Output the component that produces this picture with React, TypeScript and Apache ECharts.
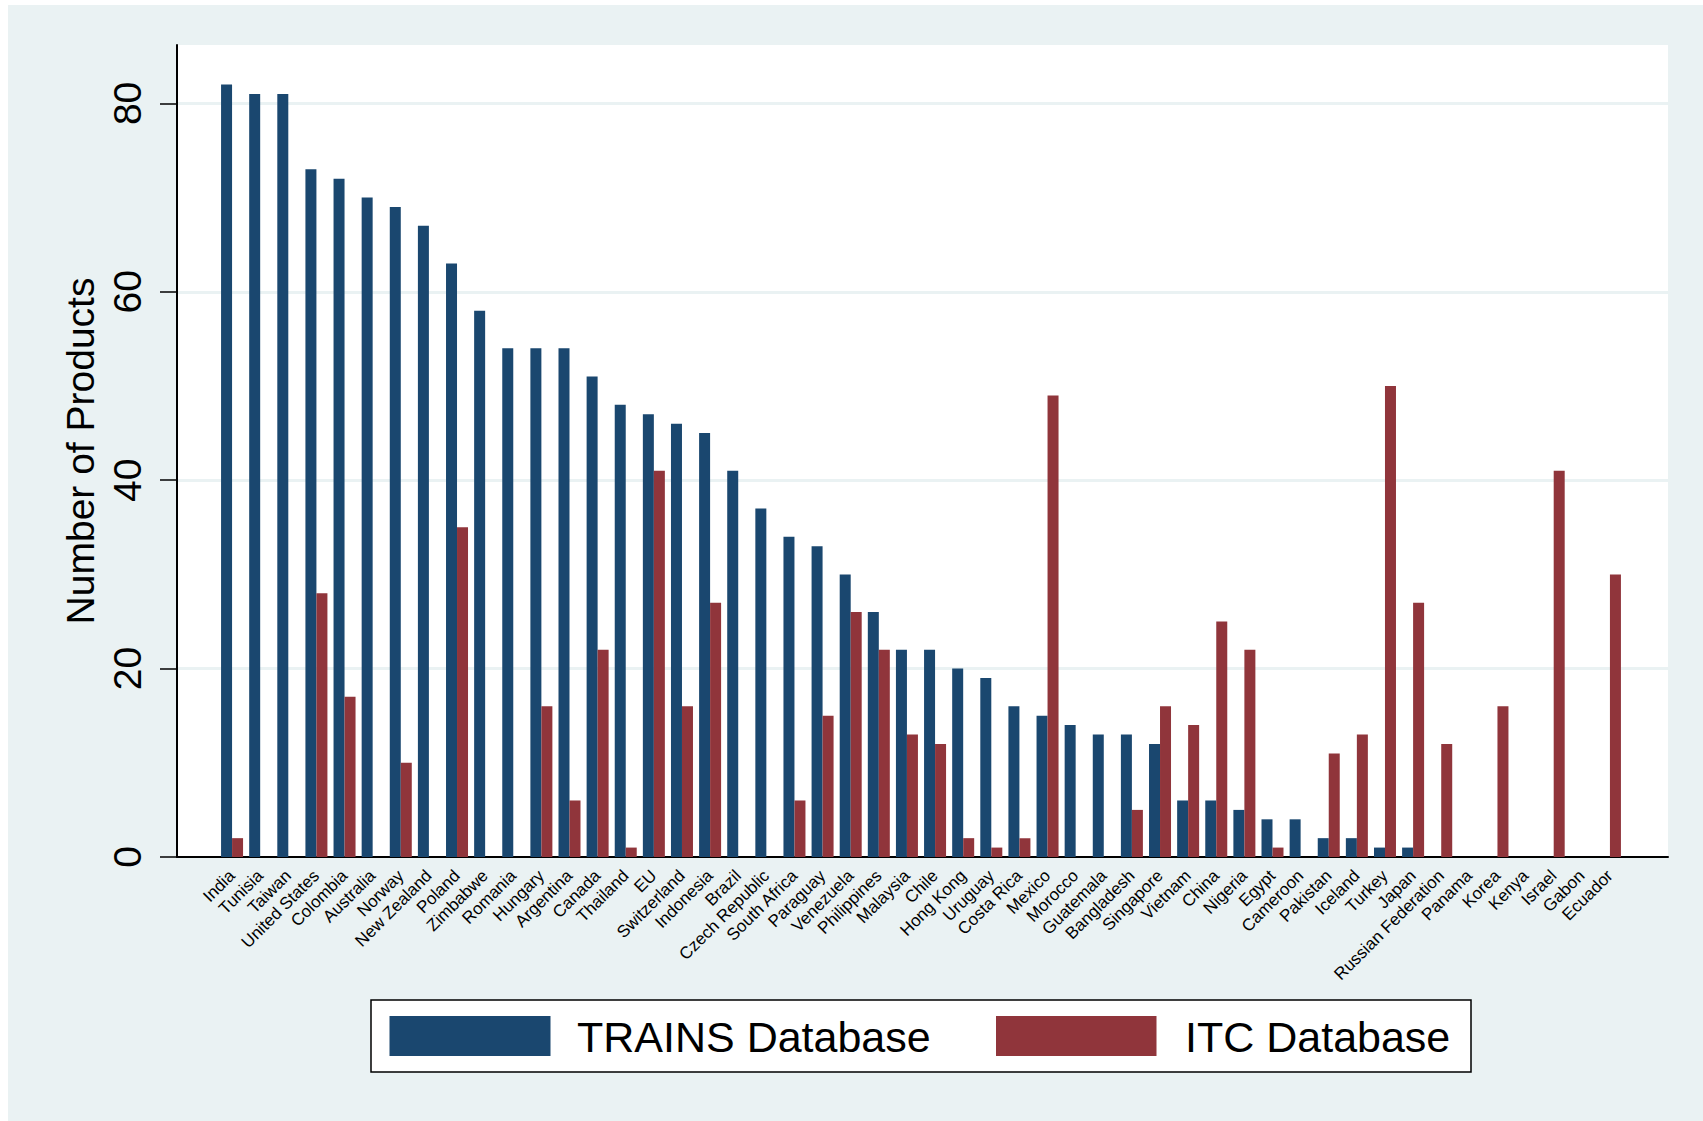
import React, { useEffect, useRef } from "react";
import * as echarts from "echarts";

const countries = [
  "India", "Tunisia", "Taiwan", "United States", "Colombia", "Australia", "Norway", "New Zealand",
  "Poland", "Zimbabwe", "Romania", "Hungary", "Argentina", "Canada", "Thailand", "EU",
  "Switzerland", "Indonesia", "Brazil", "Czech Republic", "South Africa", "Paraguay", "Venezuela",
  "Philippines", "Malaysia", "Chile", "Hong Kong", "Uruguay", "Costa Rica", "Mexico", "Morocco",
  "Guatemala", "Bangladesh", "Singapore", "Vietnam", "China", "Nigeria", "Egypt", "Cameroon",
  "Pakistan", "Iceland", "Turkey", "Japan", "Russian Federation", "Panama", "Korea", "Kenya",
  "Israel", "Gabon", "Ecuador",
];

const trains = [
  82, 81, 81, 73, 72, 70, 69, 67, 63, 58, 54, 54, 54, 51, 48, 47,
  46, 45, 41, 37, 34, 33, 30, 26, 22, 22, 20, 19, 16, 15, 14,
  13, 13, 12, 6, 6, 5, 4, 4, 2, 2, 1, 1, 0, 0, 0, 0, 0, 0, 0,
];

const itc = [
  2, 0, 0, 28, 17, 0, 10, 0, 35, 0, 0, 16, 6, 22, 1, 41,
  16, 27, 0, 0, 6, 15, 26, 22, 13, 12, 2, 1, 2, 49, 0,
  0, 5, 16, 14, 25, 22, 1, 0, 11, 13, 50, 27, 12, 0, 16, 0, 41, 0, 30,
];

const yTicks = [0, 20, 40, 60, 80];
const seriesNames = ["TRAINS Database", "ITC Database"];
const yTitle = "Number of Products";

const BLUE = "#1a476f";
const RED = "#90353b";
const BG = "#eaf2f3";
const FONT = "'Liberation Sans', Arial, Helvetica, sans-serif";

export default function App() {
  const ref = useRef<HTMLDivElement>(null);
  useEffect(() => {
    if (!ref.current) return;
    const chart = echarts.init(ref.current, null, { renderer: "svg" });
    const yMax = 86.2;
    chart.setOption({
      animation: false,
      backgroundColor: BG,
      textStyle: { fontFamily: FONT },
      grid: [
        { left: 177, top: 45, width: 1491, height: 812, show: true, backgroundColor: "#ffffff", borderWidth: 0 },
        { left: 218, top: 45, width: 1406, height: 812 },
      ],
      xAxis: [
        {
          type: "value", gridIndex: 0, min: 0, max: 1,
          axisLine: { show: true, onZero: false, lineStyle: { color: "#000", width: 2 } },
          axisTick: { show: false }, axisLabel: { show: false }, splitLine: { show: false },
        },
        {
          type: "category", gridIndex: 1, data: countries,
          axisLine: { show: false }, axisTick: { show: false },
          axisLabel: { interval: 0, rotate: 45, fontSize: 17, color: "#000", margin: 16, fontFamily: FONT },
        },
      ],
      yAxis: [
        {
          type: "value", gridIndex: 0, min: 0, max: yMax, interval: 20,
          name: yTitle, nameLocation: "middle", nameGap: 76, nameRotate: 90,
          nameTextStyle: { fontSize: 39, color: "#000", fontFamily: FONT },
          axisLine: { show: true, lineStyle: { color: "#000", width: 2 } },
          axisTick: { show: true, length: 17, customValues: yTicks, lineStyle: { color: "#000", width: 1.5 } },
          axisLabel: { rotate: 90, fontSize: 39, color: "#000", margin: 30, customValues: yTicks, fontFamily: FONT },
          splitLine: { show: true, lineStyle: { color: BG, width: 3 } },
        },
        {
          type: "value", gridIndex: 1, min: 0, max: yMax, show: false,
          splitLine: { show: false },
        },
      ],
      series: [
        {
          name: seriesNames[0], type: "bar", xAxisIndex: 1, yAxisIndex: 1, data: trains,
          barWidth: 11, barGap: "0%", itemStyle: { color: BLUE },
        },
        {
          name: seriesNames[1], type: "bar", xAxisIndex: 1, yAxisIndex: 1, data: itc,
          barWidth: 11, barGap: "0%", itemStyle: { color: RED },
        },
      ],
      graphic: [
        { type: "rect", shape: { x: 0, y: 0, width: 8, height: 1121 }, style: { fill: "#fff" }, silent: true },
        { type: "rect", shape: { x: 0, y: 0, width: 1703, height: 5 }, style: { fill: "#fff" }, silent: true },
        { type: "rect", shape: { x: 371, y: 1000, width: 1100, height: 72 }, style: { fill: "#fff", stroke: "#000", lineWidth: 1.5 } },
        { type: "rect", shape: { x: 389.5, y: 1016, width: 161, height: 40 }, style: { fill: BLUE } },
        { type: "text", x: 577, y: 1037, style: { text: seriesNames[0], fontSize: 43, fill: "#000", fontFamily: FONT, verticalAlign: "middle", align: "left" } },
        { type: "rect", shape: { x: 996, y: 1016, width: 160.5, height: 40 }, style: { fill: RED } },
        { type: "text", x: 1185, y: 1037, style: { text: seriesNames[1], fontSize: 43, fill: "#000", fontFamily: FONT, verticalAlign: "middle", align: "left" } },
      ],
    });
    return () => chart.dispose();
  }, []);
  return <div ref={ref} style={{ position: "absolute", left: 0, top: 0, width: 1703, height: 1121 }} />;
}
